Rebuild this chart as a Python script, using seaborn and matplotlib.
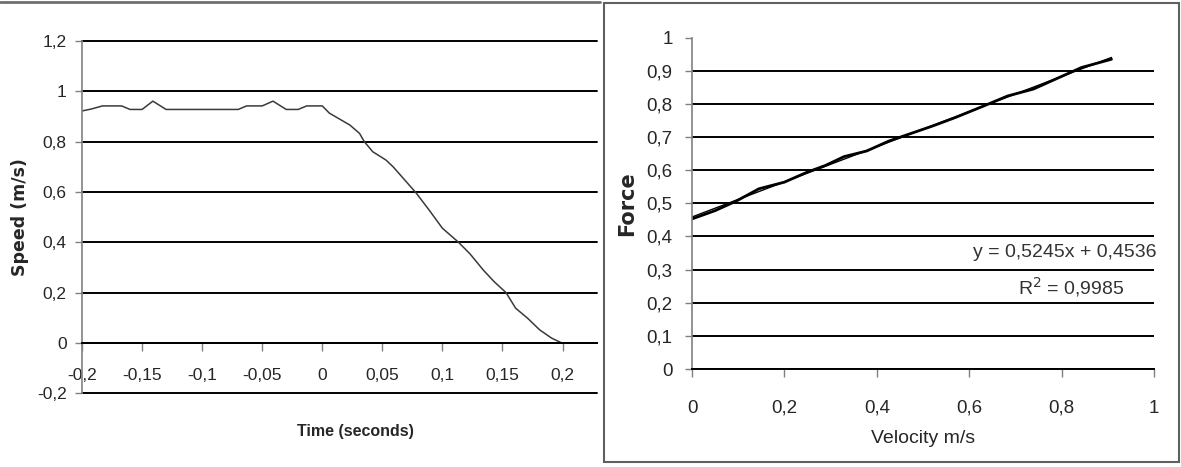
import matplotlib
matplotlib.use("Agg")
import matplotlib.pyplot as plt
import seaborn as sns
from matplotlib import font_manager
from matplotlib.lines import Line2D
from matplotlib.patches import Rectangle

# speed vs time (left chart)
time_s = [-0.2, -0.192, -0.183, -0.167, -0.16, -0.15, -0.141, -0.13, -0.07, -0.063,
          -0.05, -0.041, -0.03, -0.02, -0.013, 0.0, 0.006, 0.023, 0.031, 0.035,
          0.042, 0.053, 0.059, 0.078, 0.089, 0.1, 0.113, 0.123, 0.134, 0.143,
          0.153, 0.161, 0.171, 0.181, 0.191, 0.199]
speed = [0.922, 0.93, 0.942, 0.942, 0.928, 0.928, 0.961, 0.928, 0.928, 0.942,
         0.942, 0.961, 0.928, 0.928, 0.942, 0.942, 0.913, 0.866, 0.833, 0.8,
         0.76, 0.727, 0.7, 0.597, 0.528, 0.456, 0.402, 0.354, 0.29, 0.244,
         0.2, 0.138, 0.098, 0.052, 0.019, 0.001]

# force vs velocity (right chart)
velocity = [0, 0.05, 0.096, 0.145, 0.2, 0.249, 0.289, 0.329, 0.378, 0.426,
            0.474, 0.522, 0.57, 0.635, 0.683, 0.739, 0.795, 0.843, 0.908]
force = [0.453, 0.478, 0.507, 0.544, 0.564, 0.594, 0.6145, 0.641, 0.658, 0.688,
         0.711, 0.734, 0.759, 0.796, 0.824, 0.845, 0.88, 0.91, 0.935]

time_ticks = [-0.2, -0.15, -0.1, -0.05, 0, 0.05, 0.1, 0.15, 0.2]
speed_ticks = [-0.2, 0, 0.2, 0.4, 0.6, 0.8, 1, 1.2]
velocity_ticks = [0, 0.2, 0.4, 0.6, 0.8, 1]
force_ticks = [0, 0.1, 0.2, 0.3, 0.4, 0.5, 0.6, 0.7, 0.8, 0.9, 1]
fit_text = "y = 0,5245x + 0,4536"
r2_text = "R$^2$ = 0,9985"


def comma(v):
    return f"{v:g}".replace(".", ",")


sns.set_style("white")
plt.rcParams["font.family"] = ["Liberation Sans", "DejaVu Sans"]

names = {f.name for f in font_manager.fontManager.ttflist}
if "Liberation Sans Narrow" in names:
    narrow, narrow_size = "Liberation Sans Narrow", 14
else:
    narrow, narrow_size = "Liberation Sans", 11.5

fig = plt.figure(figsize=(11.81, 4.67), dpi=100)
W, H = 1181, 467

# ---- left chart ----
ax1 = fig.add_axes([82 / W, 1 - 393.3 / H, 515 / W, 352.3 / H])
sns.lineplot(x=time_s, y=speed, ax=ax1, color="#3a3a3a", lw=1.1)
ax1.set_xlim(-0.2, 0.2287)
ax1.set_ylim(-0.2, 1.2)
ax1.set_xticks(time_ticks)
ax1.set_xticklabels([comma(t) for t in time_ticks])
ax1.set_yticks(speed_ticks)
ax1.set_yticklabels([comma(t) for t in speed_ticks])
ax1.grid(axis="y", color="black", lw=1.4, clip_on=False)
ax1.grid(axis="x", visible=False)
for s in ["top", "right"]:
    ax1.spines[s].set_visible(False)
ax1.spines["bottom"].set_position(("data", 0))
ax1.spines["bottom"].set_color("black")
ax1.spines["bottom"].set_linewidth(1.4)
ax1.spines["left"].set_color("#808080")
ax1.spines["left"].set_linewidth(1.2)
ax1.tick_params(axis="x", direction="out", length=6, width=1, color="#808080",
                labelsize=12.5, pad=12, bottom=True)
ax1.tick_params(axis="y", direction="out", length=5, width=1, color="#808080",
                labelsize=12.5, pad=6, left=True)
ax1.set_xlabel("Time (seconds)", family=narrow, fontweight="bold", fontsize=narrow_size)
ax1.set_ylabel("Speed (m/s)", family="DejaVu Sans", fontweight="bold", fontsize=12.5)
ax1.xaxis.set_label_coords(0.53, -0.087)
ax1.yaxis.set_label_coords(-0.103, 0.5)

# ---- right chart ----
ax2 = fig.add_axes([692 / W, 1 - 369 / H, 462 / W, 331.3 / H])
sns.lineplot(x=velocity, y=force, ax=ax2, color="black", lw=2.0)
sns.regplot(x=velocity, y=force, ax=ax2, scatter=False, ci=None, truncate=True,
            color="black", line_kws={"lw": 1})
ax2.set_xlim(0, 1)
ax2.set_ylim(0, 1)
ax2.set_xticks(velocity_ticks)
ax2.set_xticklabels([comma(t) for t in velocity_ticks])
ax2.set_yticks(force_ticks)
ax2.set_yticklabels([comma(t) for t in force_ticks])
ax2.grid(axis="y", color="black", lw=1.4)
ax2.grid(axis="x", visible=False)
ax2.get_ygridlines()[-1].set_visible(False)
for s in ["top", "right"]:
    ax2.spines[s].set_visible(False)
ax2.spines["bottom"].set_color("black")
ax2.spines["bottom"].set_linewidth(1.4)
ax2.spines["left"].set_color("#808080")
ax2.spines["left"].set_linewidth(1.2)
ax2.tick_params(axis="x", direction="out", length=6, width=1, color="#808080",
                labelsize=13.5, pad=16, bottom=True)
ax2.tick_params(axis="y", direction="out", length=5, width=1, color="#808080",
                labelsize=13.5, pad=9, left=True)
ax2.set_xlabel("Velocity m/s", fontsize=14)
ax2.set_ylabel("Force", family="DejaVu Sans", fontweight="bold", fontsize=15)
ax2.xaxis.set_label_coords(0.5, -0.184)
ax2.yaxis.set_label_coords(-0.119, 0.5)
ax2.text(1.005, 0.353, fit_text, transform=ax2.transAxes, ha="right", va="center",
         fontsize=14, color="#333333")
ax2.text(0.82, 0.247, r2_text, transform=ax2.transAxes, ha="center", va="center",
         fontsize=14, color="#333333")

# frames
fig.add_artist(Line2D([0, 600 / W], [1 - 1.5 / H, 1 - 1.5 / H], color="#707070", lw=2))
fig.add_artist(Rectangle((604 / W, 1 - 462 / H), 575 / W, 459 / H, fill=False,
                         edgecolor="#606060", lw=1.5))

fig.savefig("out.png", dpi=100)
